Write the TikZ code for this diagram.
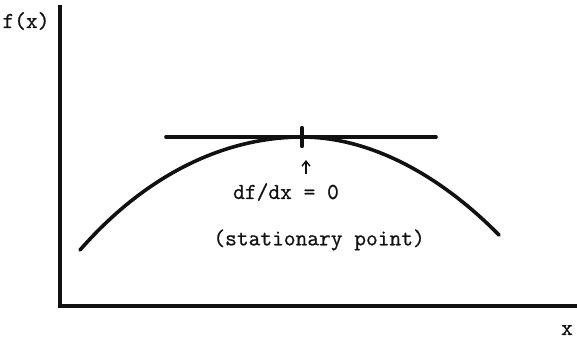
\documentclass[tikz,border=0pt]{standalone}
\usepackage{fontspec}
\setmonofont[FakeBold=0.8]{Latin Modern Mono}
\usetikzlibrary{arrows.meta, positioning}
\definecolor{ink}{HTML}{111111}

\begin{document}
\begin{tikzpicture}[x=0.5pt, y=-0.5pt,
    axisline/.style={draw=ink, line width=1.8pt},
    curveline/.style={draw=ink, line width=1.8pt, line cap=round},
    lbl/.style={font=\ttfamily\fontsize{11.4}{13}\selectfont, text=ink, inner sep=0pt}]
    \useasboundingbox (0,0) rectangle (577,339);
    % axes
    \coordinate (top) at (60,5);
    \coordinate (origin) at (60,306);
    \coordinate (right) at (577,306);
    \draw[axisline] (top) -- (origin) -- (right);
    \node[lbl] (fx) at (26,21) {f(x)};
    \node[lbl] (xl) at (567,330) {x};
    % curve and tangent
    \coordinate (peak) at (302,137);
    \draw[curveline] (80,250) .. controls (150,170) and (230,137) .. (peak)
      .. controls (370,137) and (440,175) .. (499,235);
    \coordinate (tl) at (166,137);
    \coordinate (tr) at (436,137);
    \draw[curveline] (tl) -- (tr);
    \draw[ink, line width=2.2pt, line cap=round] ([yshift=-4.5]peak) -- ([yshift=4.5]peak);
    % label
    \coordinate (tipend) at (306,160);
    \coordinate (tipstart) at (306,174);
    \draw[ink, line width=0.7pt, -{Straight Barb[length=2.5pt,width=4pt]}] (tipstart) -- (tipend);
    \node[lbl] (slope) at (286,192) {df/dx = 0};
    \node[lbl, anchor=west] (stat) at (213,240) {(stationary point)};
  \end{tikzpicture}
\end{document}
